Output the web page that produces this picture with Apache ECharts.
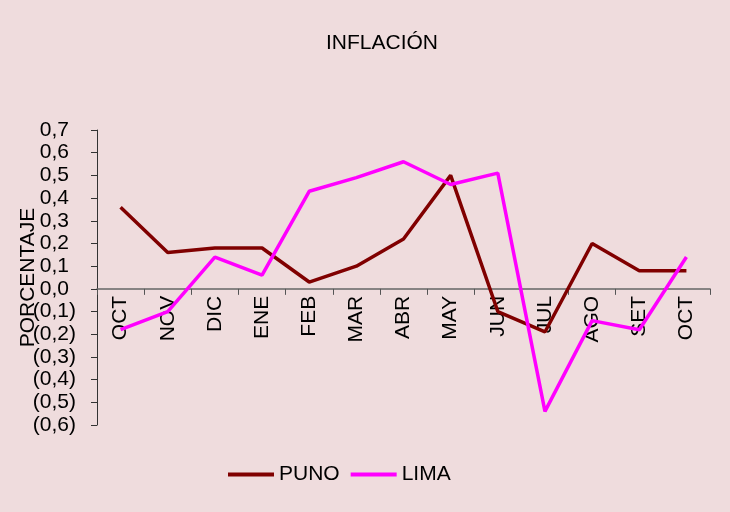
<!DOCTYPE html>
<html>
<head>
<meta charset="utf-8">
<script src="https://cdn.jsdelivr.net/npm/echarts@6/dist/echarts.min.js"></script>
<style>
  html, body { margin: 0; padding: 0; background: #EFDCDD; }
  #chart { width: 730px; height: 512px; }
</style>
</head>
<body>
<div id="chart"></div>
<script>
// datos
const meses = ['OCT', 'NOV', 'DIC', 'ENE', 'FEB', 'MAR', 'ABR', 'MAY', 'JUN', 'JUL', 'AGO', 'SET', 'OCT'];
const puno = [0.36, 0.16, 0.18, 0.18, 0.03, 0.10, 0.22, 0.50, -0.10, -0.19, 0.20, 0.08, 0.08];
const lima = [-0.18, -0.10, 0.14, 0.06, 0.43, 0.49, 0.56, 0.46, 0.51, -0.54, -0.14, -0.18, 0.14];

const fuente = '"Liberation Sans", Arial, sans-serif';
const tam = 21;

// formato tipo excel: 0,0 ; (0,0)
function fmt(v) {
  let r = Math.round(v * 10) / 10;
  let s = Math.abs(r).toFixed(1).replace('.', ',');
  return r < 0 ? '{n|(' + s + ')}' : '{p|' + s + '}';
}

// el eje x va sobre el cero: lo subo con offset
const yMin = -0.6, yMax = 0.7, gTop = 130, gBottom = 87;
const gAlto = 512 - gTop - gBottom;
const offCero = -gAlto * (0 - yMin) / (yMax - yMin);

let myChart = echarts.init(document.getElementById('chart'));
myChart.setOption({
  backgroundColor: '#EFDCDD',
  animation: false,
  textStyle: { fontFamily: fuente, color: '#000' },
  title: {
    text: 'INFLACIÓN',
    left: 321,
    top: 28,
    textStyle: { fontFamily: fuente, fontSize: tam, fontWeight: 'normal', color: '#000' }
  },
  legend: {
    left: 223,
    top: 459,
    icon: 'rect',
    itemWidth: 46,
    itemHeight: 4,
    itemGap: 11,
    textStyle: { fontFamily: fuente, fontSize: tam, color: '#000' },
    data: ['PUNO', 'LIMA']
  },
  grid: { left: 97, right: 20, top: gTop, bottom: gBottom },
  xAxis: {
    type: 'category',
    data: meses,
    boundaryGap: true,
    position: 'bottom',
    offset: offCero,
    axisLine: { onZero: false, lineStyle: { color: '#666', width: 1.5 } },
    axisTick: { show: true, length: 6, lineStyle: { color: '#555' } },
    axisLabel: { rotate: 90, fontSize: tam, color: '#000', margin: 7, fontFamily: fuente, interval: 0 },
    splitLine: { show: false }
  },
  yAxis: {
    type: 'value',
    min: yMin,
    max: yMax,
    interval: 0.1,
    name: 'PORCENTAJE',
    nameLocation: 'middle',
    nameGap: 58,
    nameMoveOverlap: false,
    nameTextStyle: { fontFamily: fuente, fontSize: tam, color: '#000' },
    axisLine: { show: true, lineStyle: { color: '#333' } },
    axisTick: { show: true, length: 6, lineStyle: { color: '#333' } },
    axisLabel: {
      fontSize: tam, color: '#000', margin: 21, fontFamily: fuente, formatter: fmt,
      rich: {
        p: { fontSize: tam, fontFamily: fuente, color: '#000', padding: [0, 7, 0, 0] },
        n: { fontSize: tam, fontFamily: fuente, color: '#000' }
      }
    },
    splitLine: { show: false }
  },
  series: [
    {
      name: 'PUNO',
      type: 'line',
      data: puno,
      symbol: 'none',
      color: '#800000',
      lineStyle: { width: 3.5, color: '#800000' }
    },
    {
      name: 'LIMA',
      type: 'line',
      data: lima,
      symbol: 'none',
      color: '#FF00FF',
      lineStyle: { width: 3.5, color: '#FF00FF' }
    }
  ]
});
</script>
</body>
</html>
